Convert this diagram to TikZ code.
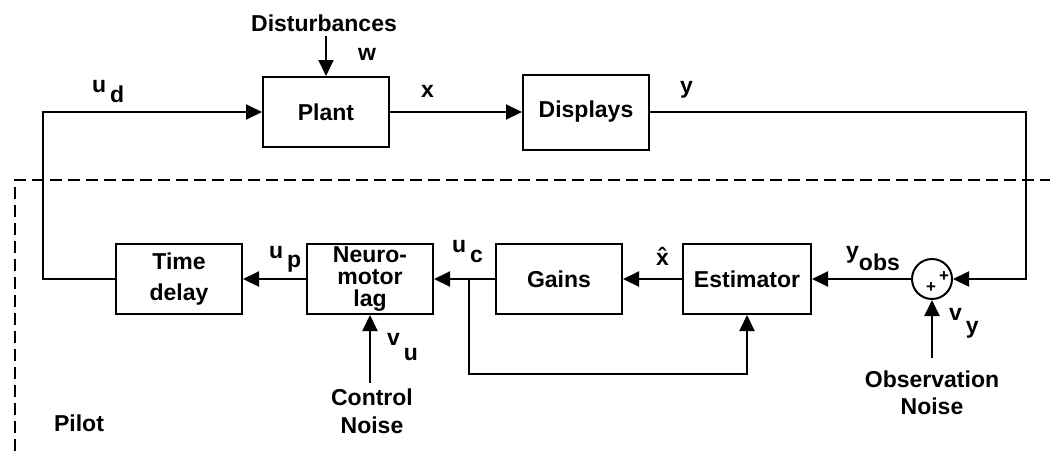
\documentclass[tikz,border=0pt]{standalone}
\usepackage{fontspec}
\setmainfont{Liberation Sans}
\usetikzlibrary{arrows.meta}
\begin{document}
\begin{tikzpicture}[x=1pt,y=-1pt,
  every node/.style={font=\fontsize{23}{26}\selectfont\bfseries, inner sep=0pt},
  blk/.style={draw, line width=2pt, minimum width=126pt, minimum height=70pt, align=center},
  wire/.style={line width=2pt},
  arr/.style={line width=2pt, -{Triangle[length=16pt,width=15pt]}},
  pilotline/.style={line width=2pt, dash pattern=on 12pt off 6pt},
  lbl/.style={anchor=base west}
]
\useasboundingbox (0,0) rectangle (1050,451);

% blocks
\node[blk] (plant) at (326,112) {Plant};
\node[blk, minimum height=75pt] (disp) at (586,112) {Displays};
\node[blk, font=\fontsize{23}{31}\selectfont\bfseries] (td) at (179,279) {Time\\delay};
\node[blk, font=\fontsize{23}{22}\selectfont\bfseries] (neuro) at (370,279) {Neuro-\\motor\\lag};
\node[blk] (gains) at (559,279) {Gains};
\node[blk, minimum width=128pt] (est) at (747,279) {Estimator};
\node[draw, circle, line width=2pt, minimum size=40pt] (sum) at (932,279) {};
\node[font=\fontsize{17}{17}\selectfont\bfseries] (p1) at (944,277) {+};
\node[font=\fontsize{17}{17}\selectfont\bfseries] (p2) at (931,288) {+};

% helper coordinates
\coordinate (dtop) at (326,36);
\coordinate (c1) at (43,279);
\coordinate (c2) at (1026,112);
\coordinate (br) at (469,279);
\coordinate (c3) at (469,374);
\coordinate (cn) at (370,383);
\coordinate (on) at (932,358);

% pilot boundary
\draw[pilotline] (15,451) -- (15,180) -- (1050,180);

% connectors
\draw[arr] (dtop) -- (plant.north);
\draw[arr] (td.west) -- (c1) |- (plant.west);
\draw[arr] (plant.east) -- (disp.west);
\draw[arr] (disp.east) -- (c2) |- (sum.east);
\draw[arr] (sum.west) -- (est.east);
\draw[arr] (est.west) -- (gains.east);
\draw[arr] (gains.west) -- (neuro.east);
\draw[arr] (neuro.west) -- (td.east);
\draw[arr] (br) -- (c3) -| (est.south);
\draw[arr] (cn) -- (neuro.south);
\draw[arr] (on) -- (sum.south);

% labels
\node (dist) at (324,23) {Disturbances};
\node[lbl] (w) at (358,60) {w};
\node[lbl] (ud) at (92,92) {u\,\raisebox{-10pt}{d}};
\node[lbl] (xl) at (421,97) {x};
\node[lbl] (yl) at (680,93) {y};
\node[lbl] (up) at (269,258) {u\,\raisebox{-9pt}{p}};
\node[lbl] (uc) at (452,252) {u\,\raisebox{-10pt}{c}};
\node[lbl] (xh) at (656,265) {\^{x}};
\node[lbl] (yobs) at (846,258) {y\raisebox{-12pt}{obs}};
\node[lbl] (vu) at (387,345) {v\,\raisebox{-15pt}{u}};
\node[lbl] (vy) at (949,320) {v\,\raisebox{-13pt}{y}};
\node (pilot) at (79,423) {Pilot};
\node[align=center, font=\fontsize{23}{28}\selectfont\bfseries] (cnoise) at (372,411) {Control\\Noise};
\node[align=center, font=\fontsize{23}{27}\selectfont\bfseries] (onoise) at (932,393) {Observation\\Noise};
\end{tikzpicture}
\end{document}
